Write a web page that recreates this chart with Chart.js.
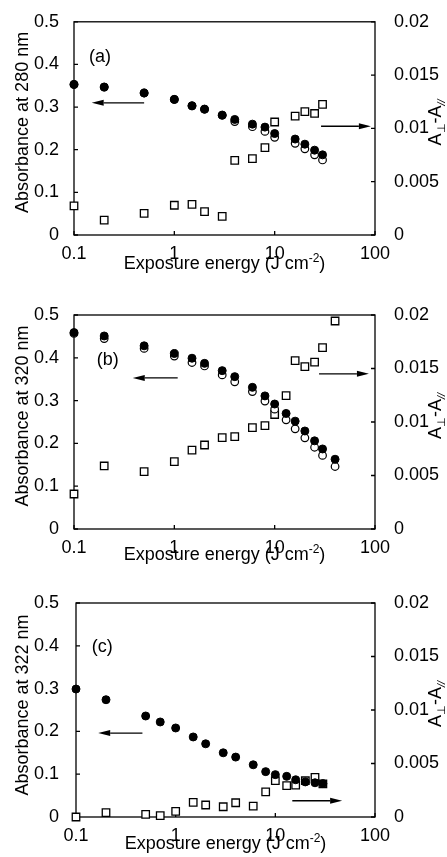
<!DOCTYPE html>
<html><head><meta charset="utf-8">
<script src="https://cdn.jsdelivr.net/npm/chart.js@4.4.1/dist/chart.umd.min.js"></script>
<style>
html,body{margin:0;padding:0;background:#fff;}
body{width:447px;height:857px;overflow:hidden;position:relative;}
canvas{position:absolute;left:0;}
</style></head><body>
<canvas id="ca" width="447" height="290" style="top:0px"></canvas>
<canvas id="cb" width="447" height="290" style="top:290px"></canvas>
<canvas id="cc" width="447" height="287" style="top:570px"></canvas>
<script>
// ---------- tick labels ----------
const Y_LEFT_TICKS = [0, 0.1, 0.2, 0.3, 0.4, 0.5];
const Y_RIGHT_TICKS = [0, 0.005, 0.01, 0.015, 0.02];
const X_TICKS = [0.1, 1, 10, 100];

// ---------- panel (a): 280 nm ----------
const xA = [0.1, 0.2, 0.5, 1, 1.5, 2, 3, 4, 6, 8, 10, 16, 20, 25, 30];
const filledA = [0.353, 0.347, 0.333, 0.318, 0.303, 0.295, 0.281, 0.271, 0.260, 0.253, 0.238, 0.225, 0.213, 0.199, 0.188];
const openA = [0.353, 0.347, 0.333, 0.318, 0.303, 0.295, 0.281, 0.266, 0.254, 0.243, 0.229, 0.215, 0.202, 0.188, 0.176];
const squareA = [0.00273, 0.0014, 0.00202, 0.00279, 0.00288, 0.0022, 0.00174, 0.0070, 0.00716, 0.0082, 0.0106, 0.01116, 0.01157, 0.0114, 0.01225];

// ---------- panel (b): 320 nm ----------
const xB = [0.1, 0.2, 0.5, 1, 1.5, 2, 3, 4, 6, 8, 10, 13, 16, 20, 25, 30, 40];
const filledB = [0.459, 0.451, 0.428, 0.410, 0.399, 0.387, 0.370, 0.356, 0.331, 0.311, 0.292, 0.270, 0.252, 0.229, 0.206, 0.187, 0.163];
const openB = [0.457, 0.445, 0.422, 0.404, 0.389, 0.381, 0.360, 0.344, 0.321, 0.299, 0.280, 0.255, 0.234, 0.213, 0.191, 0.172, 0.146];
const squareB = [0.00327, 0.00589, 0.00536, 0.00629, 0.00738, 0.00785, 0.00854, 0.00863, 0.00947, 0.00966, 0.0107, 0.01246, 0.01573, 0.01517, 0.0156, 0.01695, 0.01944];

// ---------- panel (c): 322 nm ----------
const xC = [0.1, 0.2, 0.5, 0.7, 1, 1.5, 2, 3, 4, 6, 8, 10, 13, 16, 20, 25, 30];
const filledC = [0.299, 0.274, 0.236, 0.222, 0.208, 0.187, 0.171, 0.150, 0.140, 0.122, 0.106, 0.099, 0.095, 0.087, 0.082, 0.080, 0.078];
const squareC = [0, 0.0004, 0.00025, 0.00012, 0.00053, 0.00136, 0.00112, 0.00096, 0.00133, 0.00102, 0.00234, 0.00339, 0.00293, 0.00298, 0.00339, 0.00371, 0.0031];

// ---------- annotation arrows (data coords) ----------
const arrowsA = [{x0: 0.5, x1: 0.15, y: 0.31, axis: 'y'}, {x0: 29, x1: 91, y: 0.0102, axis: 'y2'}];
const arrowsB = [{x0: 1.08, x1: 0.385, y: 0.353, axis: 'y'}, {x0: 27.7, x1: 87, y: 0.0145, axis: 'y2'}];
const arrowsC = [{x0: 0.464, x1: 0.167, y: 0.196, axis: 'y'}, {x0: 14.8, x1: 46.8, y: 0.00152, axis: 'y2'}];

const FONT = "'Liberation Sans', Arial, Helvetica, sans-serif";
Chart.defaults.font.family = FONT;
Chart.defaults.font.size = 18;
Chart.defaults.color = '#000';

function pts(xs, ys) { return xs.map((x, i) => ({x: x, y: ys[i]})); }

function drawArrow(ctx, x0, y0, x1, y1) {
  const dir = Math.sign(x1 - x0), L = 12, W = 3;
  ctx.beginPath(); ctx.moveTo(x0, y0); ctx.lineTo(x1 - dir * L, y1); ctx.stroke();
  ctx.beginPath(); ctx.moveTo(x1, y1); ctx.lineTo(x1 - dir * L, y1 - W); ctx.lineTo(x1 - dir * L, y1 + W); ctx.closePath(); ctx.fill();
}

function drawPieces(ctx, pieces, x, y) {
  let total = 0;
  pieces.forEach(p => { ctx.font = (p.italic ? 'italic ' : '') + p.size + 'px ' + FONT; p.w = ctx.measureText(p.t).width; total += p.w; });
  let cx = x - total / 2;
  pieces.forEach(p => { ctx.font = (p.italic ? 'italic ' : '') + p.size + 'px ' + FONT; ctx.fillText(p.t, cx, y + (p.dy || 0)); cx += p.w; });
}

function makeDeco(P) {
  return {
    id: 'deco',
    beforeDatasetsDraw(chart) {
      const ctx = chart.ctx, a = chart.chartArea;
      const sx = chart.scales.x, sy = chart.scales.y, sy2 = chart.scales.y2;
      ctx.save();
      ctx.strokeStyle = '#000'; ctx.lineWidth = 1.3;
      ctx.strokeRect(a.left, a.top, a.right - a.left, a.bottom - a.top);
      ctx.beginPath();
      Y_LEFT_TICKS.forEach(v => { const p = sy.getPixelForValue(v); ctx.moveTo(a.left, p); ctx.lineTo(a.left + 4, p); });
      Y_RIGHT_TICKS.forEach(v => { const p = sy2.getPixelForValue(v); ctx.moveTo(a.right, p); ctx.lineTo(a.right - 4, p); });
      X_TICKS.forEach(v => { const p = sx.getPixelForValue(v); ctx.moveTo(p, a.bottom); ctx.lineTo(p, a.bottom - 4); });
      ctx.stroke();
      ctx.restore();
    },
    afterDatasetsDraw(chart) {
      const ctx = chart.ctx, a = chart.chartArea;
      const sx = chart.scales.x;
      ctx.save();
      ctx.strokeStyle = '#000'; ctx.fillStyle = '#000'; ctx.lineWidth = 1.3;
      P.arrows.forEach(ar => {
        const s = chart.scales[ar.axis];
        const y = s.getPixelForValue(ar.y);
        drawArrow(ctx, sx.getPixelForValue(ar.x0), y, sx.getPixelForValue(ar.x1), y);
      });
      ctx.font = '18px ' + FONT; ctx.textAlign = 'left'; ctx.textBaseline = 'middle';
      ctx.fillText(P.label, sx.getPixelForValue(P.labelPos[0]), chart.scales.y.getPixelForValue(P.labelPos[1]));
      ctx.textBaseline = 'alphabetic';
      const xc = (a.left + a.right) / 2;
      drawPieces(ctx, [
        {t: 'Exposure energy (J cm', size: 18},
        {t: '-2', size: 12, dy: -7},
        {t: ')', size: 18}
      ], xc, a.bottom + P.xtitleDy);
      const yc = (a.top + a.bottom) / 2;
      ctx.save();
      ctx.translate(28, yc + P.ltitleDy);
      ctx.rotate(-Math.PI / 2);
      drawPieces(ctx, [{t: P.ytitle, size: 18}], 0, 0);
      ctx.restore();
      ctx.save();
      ctx.translate(441, yc + P.rtitleDy);
      ctx.rotate(-Math.PI / 2);
      drawPieces(ctx, [
        {t: 'A', size: 18},
        {t: '\u22A5', size: 11, dy: 4},
        {t: '-A', size: 18},
        {t: '//', size: 11, dy: 4, italic: true}
      ], 0, 0);
      ctx.restore();
      ctx.restore();
    }
  };
}

const panels = [
  {id: 'ca', h: 290, plotTop: 21, plotBottom: 235, left: 74, right: 375, label: '(a)', labelPos: [0.141, 0.418],
   ytitle: 'Absorbance at 280 nm', x: xA, filled: filledA, open: openA, sq: squareA, arrows: arrowsA,
   ltitleDy: -6, rtitleDy: -6, xtitleDy: 34},
  {id: 'cb', h: 290, plotTop: 25, plotBottom: 239, left: 74, right: 375, label: '(b)', labelPos: [0.169, 0.394],
   ytitle: 'Absorbance at 320 nm', x: xB, filled: filledB, open: openB, sq: squareB, arrows: arrowsB,
   ltitleDy: -6, rtitleDy: -6, xtitleDy: 31},
  {id: 'cc', h: 287, plotTop: 33, plotBottom: 247, left: 76, right: 375, label: '(c)', labelPos: [0.144, 0.397],
   ytitle: 'Absorbance at 322 nm', x: xC, filled: filledC, open: null, sq: squareC, arrows: arrowsC,
   ltitleDy: -5, rtitleDy: -6, xtitleDy: 32}
];

panels.forEach(P => {
  const datasets = [
    {data: pts(P.x, P.filled), pointStyle: 'circle', pointRadius: 4, backgroundColor: '#000', borderColor: '#000',
     borderWidth: 1, yAxisID: 'y', order: 0, clip: false}
  ];
  if (P.open) datasets.push({data: pts(P.x, P.open), pointStyle: 'circle', pointRadius: 3.8, backgroundColor: '#fff',
     borderColor: '#000', borderWidth: 1.2, yAxisID: 'y', order: 1, clip: false});
  datasets.push({data: pts(P.x, P.sq), pointStyle: 'rect', pointRadius: 5.3, backgroundColor: '#fff',
     borderColor: '#000', borderWidth: 1.3, yAxisID: 'y2', order: 2, clip: false});

  new Chart(document.getElementById(P.id), {
    type: 'scatter',
    data: {datasets: datasets},
    options: {
      responsive: false, animation: false, devicePixelRatio: 1,
      layout: {padding: {top: P.plotTop, left: 0, right: 0, bottom: 0}},
      plugins: {legend: {display: false}, tooltip: {enabled: false}},
      elements: {point: {hoverRadius: 4}},
      scales: {
        x: {
          type: 'logarithmic', position: 'bottom', min: 0.1, max: 100,
          grid: {display: false}, border: {display: false},
          afterBuildTicks: s => { s.ticks = X_TICKS.map(v => ({value: v})); },
          ticks: {padding: 0, autoSkip: false, maxRotation: 0, color: '#000', callback: v => String(v)},
          afterFit: s => { s.height = P.h - P.plotBottom; }
        },
        y: {
          type: 'linear', position: 'left', min: 0, max: 0.5,
          grid: {display: false}, border: {display: false},
          afterBuildTicks: s => { s.ticks = Y_LEFT_TICKS.map(v => ({value: v})); },
          ticks: {padding: P.left - 67, color: '#000', callback: v => String(v)},
          afterFit: s => { s.width = P.left; }
        },
        y2: {
          type: 'linear', position: 'right', min: 0, max: 0.02,
          grid: {display: false}, border: {display: false},
          afterBuildTicks: s => { s.ticks = Y_RIGHT_TICKS.map(v => ({value: v})); },
          ticks: {padding: 11, color: '#000', callback: v => String(v)},
          afterFit: s => { s.width = 447 - P.right; }
        }
      }
    },
    plugins: [makeDeco(P)]
  });
});
</script></body></html>
